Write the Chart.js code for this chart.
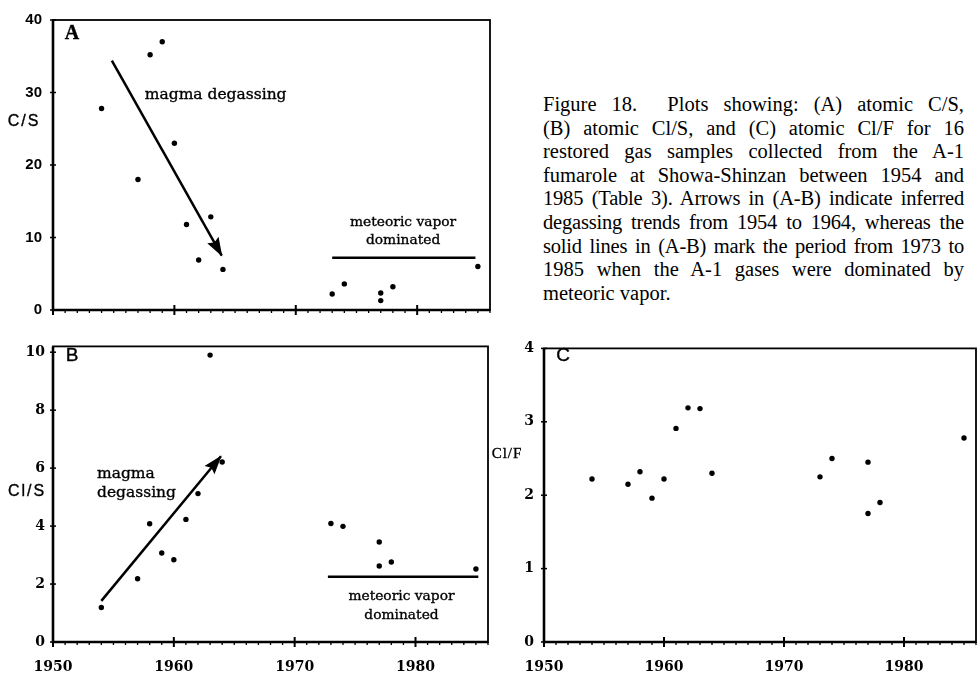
<!DOCTYPE html>
<html>
<head>
<meta charset="utf-8">
<script src="https://cdn.jsdelivr.net/npm/chart.js@4.4.1/dist/chart.umd.min.js"></script>
<style>
  html, body { margin: 0; padding: 0; background: #fff; }
  body { width: 980px; height: 678px; position: relative; overflow: hidden; }
  canvas { position: absolute; }
  #caption {
    position: absolute; left: 543px; top: 93px; width: 421px;
    font-family: 'Liberation Serif', 'Times New Roman', serif;
    font-size: 20.5px; line-height: 23.6px; color: #000;
  }
  #caption div { text-align: justify; text-align-last: justify; white-space: normal; }
  #caption div.tight { letter-spacing: -0.2px; }
  #caption div.last { text-align-last: left; }
</style>
</head>
<body>
<canvas id="chartA" width="500" height="330" style="left:0;top:0"></canvas>
<canvas id="chartB" width="500" height="348" style="left:0;top:330px"></canvas>
<canvas id="chartC" width="494" height="348" style="left:486px;top:330px"></canvas>
<div id="caption">
  <div>Figure 18.&nbsp; Plots showing: (A) atomic C/S,</div>
  <div>(B) atomic Cl/S, and (C) atomic Cl/F for 16</div>
  <div>restored gas samples collected from the A-1</div>
  <div>fumarole at Showa-Shinzan between 1954 and</div>
  <div class="tight">1985 (Table 3). Arrows in (A-B) indicate inferred</div>
  <div class="tight">degassing trends from 1954 to 1964, whereas the</div>
  <div class="tight">solid lines in (A-B) mark the period from 1973 to</div>
  <div>1985 when the A-1 gases were dominated by</div>
  <div class="last">meteoric vapor.</div>
</div>
<script>
// sample years (two samples in 1977)
const years = [1954, 1957, 1958, 1959, 1960, 1961, 1962, 1963, 1964, 1973, 1974, 1977, 1977, 1978, 1985];
const csValues = [27.8, 18.0, 35.2, 37.0, 23.0, 11.8, 6.9, 12.85, 5.6, 2.2, 3.6, 2.35, 1.3, 3.2, 6.0];
const clsValues = [1.19, 2.18, 4.08, 3.07, 2.84, 4.23, 5.12, 9.9, 6.21, 4.09, 3.99, 3.45, 2.62, 2.76, 2.52];
const clfValues = [2.22, 2.15, 2.32, 1.96, 2.22, 2.91, 3.19, 3.18, 2.30, 2.25, 2.50, 2.45, 1.75, 1.90, 2.78];

const yearTicks = [1950, 1960, 1970, 1980];
const csTicks = [0, 10, 20, 30, 40];
const clsTicks = [0, 2, 4, 6, 8, 10];
const clfTicks = [0, 1, 2, 3, 4];

// trend arrows and meteoric vapor lines (data coords)
const arrowAx = [1954.85, 1963.9];
const arrowAy = [34.4, 7.5];
const arrowBx = [1954.0, 1963.9];
const arrowBy = [1.42, 6.41];
const meteoricAx = [1973.0, 1984.8];
const meteoricAy = [7.2, 7.2];
const meteoricBx = [1972.75, 1985.2];
const meteoricBy = [2.25, 2.25];

const pts = (xs, ys) => xs.map((x, i) => ({ x: x, y: ys[i] }));

const framePlugin = {
    id: 'frame',
    afterDatasetsDraw(chart) {
        const { ctx, chartArea: a, scales: { x, y } } = chart;
        ctx.save();
        ctx.strokeStyle = '#000';
        ctx.lineWidth = 1.8;
        ctx.strokeRect(a.left, a.top, a.right - a.left, a.bottom - a.top);
        ctx.lineWidth = 2.6;
        ctx.beginPath();
        ctx.moveTo(a.left, a.top);
        ctx.lineTo(a.left, a.bottom);
        ctx.lineTo(a.right, a.bottom);
        ctx.stroke();
        // yearly ticks, crossed at decades
        for (let yr = Math.ceil(x.min); yr <= x.max; yr++) {
            const px = x.getPixelForValue(yr);
            const major = yr % 10 === 0;
            ctx.lineWidth = major ? 2 : 1.3;
            ctx.beginPath();
            ctx.moveTo(px, a.bottom - (major ? 5 : 0));
            ctx.lineTo(px, a.bottom + (major ? 5 : 3));
            ctx.stroke();
        }
        ctx.lineWidth = 1.5;
        y.ticks.forEach(t => {
            const py = y.getPixelForValue(t.value);
            ctx.beginPath();
            ctx.moveTo(a.left - 3, py);
            ctx.lineTo(a.left + 3, py);
            ctx.stroke();
        });
        ctx.restore();
    }
};

const arrowPlugin = {
    id: 'arrowHeads',
    afterDatasetsDraw(chart) {
        const ctx = chart.ctx;
        chart.data.datasets.forEach((ds, i) => {
            if (!ds.arrowHead) return;
            const el = chart.getDatasetMeta(i).data;
            const p0 = el[el.length - 2], p1 = el[el.length - 1];
            const ang = Math.atan2(p1.y - p0.y, p1.x - p0.x);
            ctx.save();
            ctx.fillStyle = '#000';
            ctx.translate(p1.x, p1.y);
            ctx.rotate(ang);
            ctx.beginPath();
            ctx.moveTo(1, 0);
            ctx.lineTo(-18, -6.5);
            ctx.lineTo(-15, 0);
            ctx.lineTo(-18, 6.5);
            ctx.closePath();
            ctx.fill();
            ctx.restore();
        });
    }
};

const notesPlugin = {
    id: 'notes',
    afterDraw(chart, args, opts) {
        const { ctx, scales: { x, y } } = chart;
        (opts.items || []).forEach(n => {
            ctx.save();
            ctx.font = n.f;
            ctx.fillStyle = '#000';
            ctx.strokeStyle = '#000';
            ctx.lineWidth = 0.35;
            ctx.textAlign = n.align || 'center';
            ctx.textBaseline = 'middle';
            if (n.spacing) ctx.letterSpacing = n.spacing;
            const px = n.px !== undefined ? n.px : x.getPixelForValue(n.x);
            const py = n.py !== undefined ? n.py : y.getPixelForValue(n.y);
            ctx.fillText(n.text, px, py);
            ctx.strokeText(n.text, px, py);
            ctx.restore();
        });
    }
};

Chart.register(framePlugin, arrowPlugin, notesPlugin);

const serifBold = 'DejaVu Serif';

function makePanel(id, cfg) {
    const ctx = document.getElementById(id).getContext('2d');
    return new Chart(ctx, {
        type: 'scatter',
        data: { datasets: cfg.datasets },
        options: {
            responsive: false,
            animation: false,
            devicePixelRatio: 1,
            layout: { padding: cfg.padding },
            plugins: {
                legend: { display: false },
                tooltip: { enabled: false },
                notes: { items: cfg.notes }
            },
            scales: {
                x: {
                    type: 'linear',
                    min: 1950,
                    max: 1986,
                    afterBuildTicks: s => { s.ticks = yearTicks.map(v => ({ value: v })); },
                    afterFit: s => { s.height = cfg.xHeight; },
                    grid: { display: false, drawTicks: false },
                    border: { display: false },
                    ticks: {
                        display: cfg.xLabels,
                        padding: 17,
                        color: '#000',
                        font: { family: serifBold, weight: 'bold', size: 14 },
                        callback: v => String(v)
                    }
                },
                y: {
                    type: 'linear',
                    min: 0,
                    max: cfg.yMax,
                    afterBuildTicks: s => { s.ticks = cfg.yTicks.map(v => ({ value: v })); },
                    afterFit: s => { s.width = cfg.yWidth; },
                    grid: { display: false, drawTicks: false },
                    border: { display: false },
                    ticks: {
                        padding: cfg.yPad,
                        color: '#000',
                        font: cfg.yFont,
                        callback: v => String(v)
                    }
                }
            }
        }
    });
}

const dots = data => ({
    data: data,
    pointRadius: 2.7,
    pointBackgroundColor: '#000',
    pointBorderWidth: 0,
    showLine: false
});
const line = (data, arrow) => ({
    data: data,
    showLine: true,
    borderColor: '#000',
    borderWidth: 2.5,
    pointRadius: 0,
    arrowHead: arrow
});

makePanel('chartA', {
    padding: { top: 10, right: 10, left: 0, bottom: 0 },
    xHeight: 15,
    yWidth: 53,
    yMax: 40,
    yTicks: csTicks,
    yPad: 11,
    yFont: { family: 'Liberation Sans', weight: 'bold', size: 15 },
    xLabels: false,
    datasets: [
        dots(pts(years, csValues)),
        line(pts(arrowAx, arrowAy), true),
        line(pts(meteoricAx, meteoricAy), false)
    ],
    notes: [
        { text: 'A', px: 72, py: 34, f: 'bold 20px "Liberation Serif"' },
        { text: 'C/S', px: 24, py: 122, f: '16px "Liberation Sans"', spacing: '2px' },
        { text: 'magma degassing', x: 1963.4, y: 29.6, f: '15.5px "DejaVu Serif"' },
        { text: 'meteoric vapor', x: 1978.84, y: 12.07, f: '13.8px "DejaVu Serif"' },
        { text: 'dominated', x: 1978.84, y: 9.57, f: '13.8px "DejaVu Serif"' }
    ]
});

makePanel('chartB', {
    padding: { top: 8, right: 12, left: 0, bottom: 0 },
    xHeight: 36,
    yWidth: 53,
    yMax: 10.2,
    yTicks: clsTicks,
    yPad: 8,
    yFont: { family: serifBold, weight: 'bold', size: 14 },
    xLabels: true,
    datasets: [
        dots(pts(years, clsValues)),
        line(pts(arrowBx, arrowBy), true),
        line(pts(meteoricBx, meteoricBy), false)
    ],
    notes: [
        { text: 'B', px: 72, py: 26, f: '19px "Liberation Sans"' },
        { text: 'Cl/S', px: 27, py: 162, f: '16px "Liberation Sans"', spacing: '2px' },
        { text: 'magma', x: 1953.64, y: 5.81, f: '15.5px "DejaVu Serif"', align: 'left' },
        { text: 'degassing', x: 1953.64, y: 5.14, f: '15.5px "DejaVu Serif"', align: 'left' },
        { text: 'meteoric vapor', x: 1978.84, y: 1.56, f: '13.8px "DejaVu Serif"' },
        { text: 'dominated', x: 1978.84, y: 0.915, f: '13.8px "DejaVu Serif"' }
    ]
});

makePanel('chartC', {
    padding: { top: 8, right: 1, left: 0, bottom: 0 },
    xHeight: 36,
    yWidth: 58,
    yMax: 4,
    yTicks: clfTicks,
    yPad: 10,
    yFont: { family: serifBold, weight: 'bold', size: 14 },
    xLabels: true,
    datasets: [
        dots(pts(years, clfValues))
    ],
    notes: [
        { text: 'C', px: 77, py: 26, f: '19px "Liberation Sans"' },
        { text: 'Cl/F', px: 21, py: 124, f: '15px "Liberation Serif"', spacing: '1px' }
    ]
});
</script>
</body>
</html>
